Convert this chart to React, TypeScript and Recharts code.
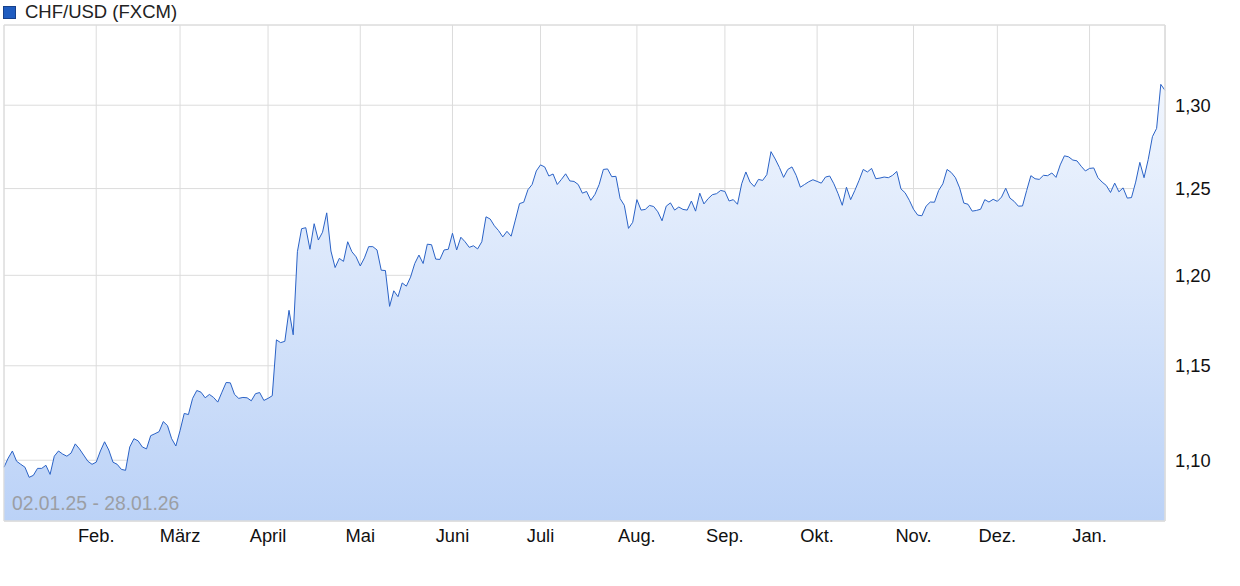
import { AreaChart, Area, XAxis, YAxis, CartesianGrid, ReferenceArea } from "recharts";

// CHF/USD daily closes, one array per month (trading days)
const jan25 = [1.0964, 1.1011, 1.1048, 1.0995, 1.0979, 1.0964, 1.0912, 1.0922, 1.0958, 1.0958, 1.0974, 1.0927, 1.1021, 1.1048, 1.1032, 1.1021, 1.1037, 1.1085, 1.1059, 1.1027, 1.0995, 1.0979];
const feb25 = [1.099, 1.1048, 1.1096, 1.1053, 1.099, 1.0979, 1.0953, 1.0948, 1.1069, 1.1112, 1.1101, 1.1069, 1.1059, 1.1128, 1.1138, 1.1149, 1.1202, 1.1181, 1.1112, 1.1074];
const mar25 = [1.1154, 1.1245, 1.1239, 1.1325, 1.1367, 1.1358, 1.1328, 1.1346, 1.133, 1.1305, 1.1358, 1.141, 1.1408, 1.1346, 1.1325, 1.133, 1.1328, 1.1312, 1.135, 1.1356, 1.1314];
const apr25 = [1.1325, 1.1339, 1.1641, 1.1626, 1.1633, 1.1804, 1.1669, 1.2134, 1.2266, 1.2272, 1.2148, 1.2295, 1.2201, 1.2246, 1.2358, 1.2138, 1.2044, 1.2096, 1.2079, 1.2191, 1.2134, 1.2105];
const may25 = [1.2053, 1.2099, 1.2163, 1.2163, 1.2144, 1.2029, 1.2027, 1.1826, 1.1913, 1.188, 1.1957, 1.1939, 1.199, 1.2067, 1.2115, 1.2067, 1.2177, 1.2174, 1.2092, 1.209, 1.2144, 1.2148];
const jun25 = [1.224, 1.2144, 1.2217, 1.2191, 1.2159, 1.2168, 1.215, 1.2191, 1.2335, 1.2322, 1.2283, 1.2255, 1.2219, 1.2251, 1.2223, 1.2316, 1.2412, 1.242, 1.2493, 1.2524, 1.2604];
const jul25 = [1.264, 1.2628, 1.2574, 1.2586, 1.2524, 1.2554, 1.2587, 1.2545, 1.2542, 1.2524, 1.2473, 1.2483, 1.2431, 1.2466, 1.2524, 1.2613, 1.2616, 1.257, 1.2572, 1.2441, 1.2402, 1.2268, 1.2303];
const aug25 = [1.2435, 1.2374, 1.2378, 1.2401, 1.2395, 1.2364, 1.2312, 1.2397, 1.2416, 1.2374, 1.2392, 1.2378, 1.2374, 1.2427, 1.2368, 1.2473, 1.241, 1.2441, 1.2464, 1.247, 1.2489];
const sep25 = [1.2483, 1.2427, 1.2435, 1.2408, 1.2528, 1.2598, 1.2538, 1.2512, 1.2554, 1.2548, 1.2582, 1.2719, 1.2675, 1.2625, 1.2566, 1.2613, 1.2628, 1.2578, 1.2508, 1.2524, 1.254, 1.2552];
const oct25 = [1.2542, 1.2532, 1.2568, 1.2574, 1.2528, 1.247, 1.2402, 1.2508, 1.2435, 1.2489, 1.2548, 1.2613, 1.2598, 1.2619, 1.2558, 1.2562, 1.2568, 1.2564, 1.2578, 1.2601, 1.2498, 1.2475, 1.2431];
const nov25 = [1.2379, 1.2345, 1.2341, 1.2397, 1.2421, 1.242, 1.2489, 1.2528, 1.2613, 1.2595, 1.2564, 1.2504, 1.2415, 1.2408, 1.2368, 1.2372, 1.2379, 1.2435, 1.2421, 1.2437];
const dec25 = [1.2425, 1.245, 1.2502, 1.2444, 1.2425, 1.2397, 1.2398, 1.2489, 1.2576, 1.2558, 1.2554, 1.2578, 1.2576, 1.2592, 1.2566, 1.264, 1.2694, 1.2688, 1.2669, 1.2664, 1.2632, 1.2604];
const jan26 = [1.2619, 1.2622, 1.2564, 1.2538, 1.2518, 1.2477, 1.2532, 1.2481, 1.2504, 1.2444, 1.2447, 1.2538, 1.2655, 1.2564, 1.2673, 1.2809, 1.2859, 1.3128, 1.3091];

const months = [jan25, feb25, mar25, apr25, may25, jun25, jul25, aug25, sep25, oct25, nov25, dec25, jan26];
const monthLabels = ["Jan.", "Feb.", "März", "April", "Mai", "Juni", "Juli", "Aug.", "Sep.", "Okt.", "Nov.", "Dez.", "Jan."];
const yTicks = [1.1, 1.15, 1.2, 1.25, 1.3];
const yDomain = [1.069, 1.35];

const data = months.flat().map((value, i) => ({ i, value }));
const monthStarts = months.map((_, m) => months.slice(0, m).reduce((s, a) => s + a.length, 0));
const labelAt = new Map(monthStarts.map((idx, m) => [idx, monthLabels[m]]));
const xTicks = monthStarts.slice(1);
const lastIndex = data.length - 1;

const font = '"Liberation Sans", Arial, sans-serif';

export default function App() {
  return (
    <div style={{ position: "absolute", left: 0, top: 0, width: 1240, height: 586, fontFamily: font }}>
      <div style={{ position: "absolute", left: 3, top: 1, display: "flex", alignItems: "center", fontSize: 18.5, color: "#222" }}>
        <span style={{ width: 11, height: 11, background: "#1f5cc0", border: "1px solid #17408a", marginRight: 9 }} />
        CHF/USD (FXCM)
      </div>
      <AreaChart width={1240} height={586} data={data} margin={{ top: 25, right: 15, bottom: 0, left: 4 }}>
        <defs>
          <linearGradient id="chfFill" x1="0" y1="0" x2="0" y2="1">
            <stop offset="0%" stopColor="#f1f6fe" />
            <stop offset="100%" stopColor="#bbd2f7" />
          </linearGradient>
        </defs>
        <CartesianGrid stroke="#dcdcdc" />
        <XAxis
          dataKey="i"
          type="number"
          domain={[0, lastIndex]}
          ticks={xTicks}
          interval={0}
          tickFormatter={(v) => labelAt.get(v) ?? ""}
          tickLine={false}
          axisLine={{ stroke: "#dcdcdc" }}
          tick={{ fill: "#111", fontSize: 18.3, fontFamily: font }}
          height={65}
        />
        <YAxis
          orientation="right"
          type="number"
          scale="log"
          domain={yDomain}
          allowDataOverflow
          ticks={yTicks}
          tickFormatter={(v) => v.toFixed(2).replace(".", ",")}
          tickLine={false}
          tickMargin={4}
          axisLine={{ stroke: "#dcdcdc" }}
          tick={{ fill: "#111", fontSize: 18.3, fontFamily: font, textAnchor: "start" }}
          width={60}
        />
        <Area
          type="linear"
          dataKey="value"
          stroke="#2a62c6"
          strokeWidth={1}
          fill="url(#chfFill)"
          fillOpacity={1}
          baseValue={yDomain[0]}
          isAnimationActive={false}
          dot={false}
          activeDot={false}
        />
        <ReferenceArea x1={0} x2={lastIndex} y1={yDomain[0]} y2={yDomain[1]} fill="none" stroke="#dcdcdc" ifOverflow="visible" />
      </AreaChart>
      <div style={{ position: "absolute", left: 12, top: 493, fontSize: 19.3, color: "#9b9ea4" }}>02.01.25 - 28.01.26</div>
    </div>
  );
}
